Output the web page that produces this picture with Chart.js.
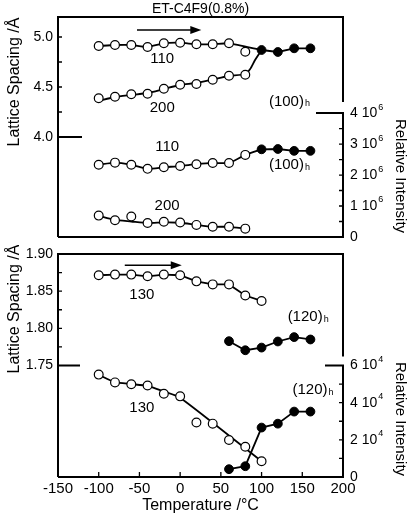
<!DOCTYPE html>
<html>
<head>
<meta charset="utf-8">
<title>ET-C4F9(0.8%)</title>
<script src="https://cdn.jsdelivr.net/npm/chart.js@4.4.1/dist/chart.umd.min.js"></script>
<style>
  body { margin: 0; background: #fff; }
  #wrap { position: relative; width: 411px; height: 517px; }
  canvas { position: absolute; left: 0; }
  #top { top: 0; }
  #bottom { top: 245px; }
</style>
</head>
<body>
<div id="wrap">
  <canvas id="top" width="411" height="245"></canvas>
  <canvas id="bottom" width="411" height="272"></canvas>
</div>
<script>
// temperatures (°C)
const tempsLow = [-100, -80, -60, -40, -20, 0, 20, 40, 60, 80];
const tempsHex = [100, 120, 140, 160];
const temps130 = [-100, -80, -60, -40, -20, 0, 20, 40, 60, 80, 100];
const temps120h = [60, 80, 100, 120, 140, 160];

// upper panel - lattice spacing (Å)
const spacing110 = [4.91, 4.92, 4.92, 4.90, 4.937, 4.943, 4.927, 4.927, 4.937, 4.853];
const spacing200 = [4.387, 4.403, 4.427, 4.433, 4.483, 4.523, 4.53, 4.573, 4.613, 4.623];
const spacing100h = [4.87, 4.85, 4.887, 4.887];
// upper panel - relative intensity (x 10^6)
const intens110 = [2.33, 2.40, 2.33, 2.20, 2.25, 2.29, 2.35, 2.39, 2.39, 2.65];
const intens200 = [0.69, 0.54, 0.66, 0.45, 0.49, 0.47, 0.39, 0.33, 0.33, 0.27];
const intens100h = [2.83, 2.84, 2.78, 2.78];

// lower panel - lattice spacing (Å)
const spacing130 = [1.8714, 1.8723, 1.8723, 1.870, 1.8723, 1.8714, 1.8632, 1.8591, 1.8591, 1.8441, 1.8368];
const spacing120h = [1.7827, 1.7705, 1.7741, 1.7823, 1.7882, 1.785];
// lower panel - relative intensity (x 10^4)
const intens130 = [5.51, 5.09, 4.99, 4.92, 4.48, 4.34, 2.93, 2.87, 1.99, 1.63, 0.85];
const intens120h = [0.42, 0.58, 2.66, 2.87, 3.52, 3.52];

// guide lines drawn through the points
const fit110T = [-100, -80, -60, -40, -20, 0, 20, 40, 60, 100];
const fit110V = [4.91, 4.92, 4.92, 4.90, 4.937, 4.943, 4.927, 4.927, 4.937, 4.87];
const fit200T = [-100, -80, -60, -40, -20, 0, 20, 40, 60, 80, 86, 92, 100];
const fit200V = [4.36, 4.40, 4.42, 4.44, 4.48, 4.52, 4.54, 4.575, 4.61, 4.63, 4.68, 4.77, 4.87];
const fitI110T = [-100, -80, -60, -40, -20, 0, 20, 40, 60, 80, 100];
const fitI110V = [2.33, 2.40, 2.33, 2.20, 2.25, 2.29, 2.35, 2.39, 2.39, 2.65, 2.83];
const fitI200T = [-100, -80, -60, -40, -20, 0, 20, 40, 60, 80];
const fitI200V = [0.68, 0.55, 0.50, 0.45, 0.47, 0.46, 0.39, 0.33, 0.33, 0.27];
const fitI130T = [-100, -80, -60, -40, -20, 0, 100];
const fitI130V = [5.5, 5.1, 5.0, 4.9, 4.6, 4.27, 0.85];

// tick labels
const tempTicks = [-150, -100, -50, 0, 50, 100, 150, 200];
const topSpacingTicks = [4.0, 4.5, 5.0];
const topSpacingMinor = [4.25, 4.75];
const topIntensTicks = [0, 1, 2, 3, 4];
const topIntensMinor = [0.5, 1.5, 2.5, 3.5];
const lowSpacingTicks = [1.75, 1.80, 1.85, 1.90];
const lowSpacingMinor = [1.775, 1.825, 1.875];
const lowIntensTicks = [0, 2, 4, 6];
const lowIntensMinor = [1, 3, 5];

const FONT = "'Liberation Sans', Arial, sans-serif";
const f = (s) => s + 'px ' + FONT;

const pts = (xs, ys) => xs.map((x, i) => ({ x: x, y: ys[i] }));

function openPts(xs, ys, axis, line) {
  return { data: pts(xs, ys), yAxisID: axis, showLine: !!line, borderColor: '#000', borderWidth: 1.8,
    pointRadius: 4.4, pointBackgroundColor: '#fff', pointBorderColor: '#000', pointBorderWidth: 1.2, order: 0 };
}
function filledPts(xs, ys, axis) {
  return { data: pts(xs, ys), yAxisID: axis, showLine: true, borderColor: '#000', borderWidth: 1.8,
    pointRadius: 4.4, pointBackgroundColor: '#000', pointBorderColor: '#000', pointBorderWidth: 1, order: 0 };
}
function guide(xs, ys, axis) {
  return { data: pts(xs, ys), yAxisID: axis, showLine: true, borderColor: '#000', borderWidth: 1.8,
    pointRadius: 0, tension: 0.2, order: 1 };
}

const panels = {
  top: {
    leftTicks: topSpacingTicks, leftMinor: topSpacingMinor, leftDigits: 1,
    rightTicks: topIntensTicks, rightMinor: topIntensMinor, rightExp: 6,
    stubL: 24, stubR: 27, gap: 11, xTicks: false,
    title: 'ET-C4F9(0.8%)',
    leftTitleY: 65, rightTitleY: 159,
    arrow: { t1: -53, t2: 26, v: 5.07, axis: 'yL' },
    notes: [
      { text: '110', t: -22, v: 4.78, axis: 'yL' },
      { text: '200', t: -22, v: 4.29, axis: 'yL' },
      { text: '(100)', sub: 'h', t: 109, v: 4.35, axis: 'yL' },
      { text: '110', t: -16, v: 2.90, axis: 'yR' },
      { text: '(100)', sub: 'h', t: 109, v: 2.32, axis: 'yR' },
      { text: '200', t: -16, v: 1.0, axis: 'yR' }
    ]
  },
  bottom: {
    leftTicks: lowSpacingTicks, leftMinor: lowSpacingMinor, leftDigits: 2,
    rightTicks: lowIntensTicks, rightMinor: lowIntensMinor, rightExp: 4,
    stubL: 22, stubR: 18, gap: 9, xTicks: true,
    leftTitleY: 55, rightTitleY: 165,
    arrow: { t1: -68, t2: 2, v: 1.885, axis: 'yL' },
    notes: [
      { text: '130', t: -47, v: 1.845, axis: 'yL' },
      { text: '(120)', sub: 'h', t: 132, v: 1.815, axis: 'yL' },
      { text: '(120)', sub: 'h', t: 138, v: 4.68, axis: 'yR' },
      { text: '130', t: -47, v: 3.71, axis: 'yR' }
    ]
  }
};

const panelPlugin = {
  id: 'panel',
  afterDraw(chart) {
    const p = panels[chart.canvas.id];
    const { ctx, chartArea: a } = chart;
    const sx = chart.scales.x, sl = chart.scales.yL, sr = chart.scales.yR;
    const lBreak = Math.min(...p.leftTicks), rBreak = Math.max(...p.rightTicks);
    const yBl = sl.getPixelForValue(lBreak), yBr = sr.getPixelForValue(rBreak);
    ctx.save();
    ctx.strokeStyle = '#000';
    ctx.fillStyle = '#000';
    ctx.lineWidth = 2;
    ctx.beginPath();
    ctx.moveTo(a.left, a.bottom);
    ctx.lineTo(a.left, a.top);
    ctx.lineTo(a.right, a.top);
    ctx.lineTo(a.right, yBr - p.gap);
    ctx.moveTo(a.left, yBl);
    ctx.lineTo(a.left + p.stubL, yBl);
    ctx.moveTo(a.right - p.stubR, yBr);
    ctx.lineTo(a.right, yBr);
    ctx.lineTo(a.right, a.bottom);
    ctx.lineTo(a.left, a.bottom);
    ctx.stroke();

    // inward ticks
    ctx.lineWidth = 1.3;
    ctx.beginPath();
    p.leftTicks.concat(p.leftMinor).forEach(v => {
      if (v === lBreak) return;
      const y = sl.getPixelForValue(v);
      ctx.moveTo(a.left, y); ctx.lineTo(a.left + 4, y);
    });
    p.rightTicks.concat(p.rightMinor).forEach(v => {
      if (v === rBreak) return;
      const y = sr.getPixelForValue(v);
      ctx.moveTo(a.right, y); ctx.lineTo(a.right - 4, y);
    });
    if (p.xTicks) {
      tempTicks.forEach(t => {
        const x = sx.getPixelForValue(t);
        ctx.moveTo(x, a.bottom); ctx.lineTo(x, a.bottom - 5);
      });
    }
    ctx.stroke();

    // tick labels
    ctx.font = f(14);
    ctx.textBaseline = 'middle';
    ctx.textAlign = 'right';
    p.leftTicks.forEach(v => ctx.fillText(v.toFixed(p.leftDigits), a.left - 5, sl.getPixelForValue(v)));
    ctx.textAlign = 'left';
    p.rightTicks.forEach(v => {
      const y = sr.getPixelForValue(v), x = a.right + 7;
      ctx.font = f(14);
      if (v === 0) { ctx.fillText('0', x, y); return; }
      const base = v + ' 10';
      ctx.fillText(base, x, y);
      const w = ctx.measureText(base).width;
      ctx.font = f(9);
      ctx.fillText(String(p.rightExp), x + w + 1, y - 6);
    });
    if (p.xTicks) {
      ctx.font = f(15);
      ctx.textAlign = 'center';
      ctx.textBaseline = 'top';
      tempTicks.forEach(t => ctx.fillText(String(t), sx.getPixelForValue(t), a.bottom + 4));
      ctx.font = f(16);
      ctx.fillText('Temperature /°C', (a.left + a.right) / 2, a.bottom + 21);
    }

    // axis titles
    ctx.font = f(16);
    ctx.textAlign = 'center';
    ctx.textBaseline = 'middle';
    ctx.save();
    ctx.translate(15, a.top + p.leftTitleY);
    ctx.rotate(-Math.PI / 2);
    ctx.fillText('Lattice Spacing /Å', 0, 0);
    ctx.restore();
    ctx.save();
    ctx.font = f(15);
    ctx.translate(400, a.top + p.rightTitleY);
    ctx.rotate(Math.PI / 2);
    ctx.fillText('Relative Intensity', 0, 0);
    ctx.restore();

    if (p.title) {
      ctx.font = f(14);
      ctx.fillText(p.title, (a.left + a.right) / 2, 9);
    }

    // series labels
    p.notes.forEach(n => {
      const sc = chart.scales[n.axis];
      const x = sx.getPixelForValue(n.t), y = sc.getPixelForValue(n.v);
      ctx.font = f(15);
      ctx.textBaseline = 'middle';
      if (n.sub) {
        ctx.textAlign = 'left';
        ctx.fillText(n.text, x, y);
        const w = ctx.measureText(n.text).width;
        ctx.font = f(9);
        ctx.fillText(n.sub, x + w + 1, y + 2);
      } else {
        ctx.textAlign = 'center';
        ctx.fillText(n.text, x, y);
      }
    });

    // heating arrow
    const ar = p.arrow;
    const ax1 = sx.getPixelForValue(ar.t1), ax2 = sx.getPixelForValue(ar.t2);
    const ay = chart.scales[ar.axis].getPixelForValue(ar.v);
    ctx.lineWidth = 1.5;
    ctx.beginPath();
    ctx.moveTo(ax1, ay); ctx.lineTo(ax2 - 8, ay);
    ctx.stroke();
    ctx.beginPath();
    ctx.moveTo(ax2, ay); ctx.lineTo(ax2 - 11, ay - 4); ctx.lineTo(ax2 - 11, ay + 4);
    ctx.closePath();
    ctx.fill();
    ctx.restore();
  }
};

function makeChart(id, datasets, yl, yr, padding) {
  return new Chart(document.getElementById(id), {
    type: 'scatter',
    data: { datasets: datasets },
    options: {
      responsive: false,
      animation: false,
      devicePixelRatio: 1,
      layout: { padding: padding },
      plugins: { legend: { display: false }, tooltip: { enabled: false }, title: { display: false } },
      scales: {
        x: { type: 'linear', min: -150, max: 200, display: false },
        yL: { type: 'linear', position: 'left', min: yl[0], max: yl[1], display: false },
        yR: { type: 'linear', position: 'right', min: yr[0], max: yr[1], display: false }
      }
    },
    plugins: [panelPlugin]
  });
}

makeChart('top', [
  guide(fit110T, fit110V, 'yL'),
  guide(fit200T, fit200V, 'yL'),
  guide(fitI110T, fitI110V, 'yR'),
  guide(fitI200T, fitI200V, 'yR'),
  openPts(tempsLow, spacing110, 'yL'),
  openPts(tempsLow, spacing200, 'yL'),
  filledPts(tempsHex, spacing100h, 'yL'),
  openPts(tempsLow, intens110, 'yR'),
  openPts(tempsLow, intens200, 'yR'),
  filledPts(tempsHex, intens100h, 'yR')
], [3.0, 5.2], [0, 7.1], { left: 58, right: 68, top: 17, bottom: 8 });

makeChart('bottom', [
  guide(fitI130T, fitI130V, 'yR'),
  openPts(temps130, spacing130, 'yL', true),
  filledPts(temps120h, spacing120h, 'yL'),
  openPts(temps130, intens130, 'yR'),
  filledPts(temps120h, intens120h, 'yR')
], [1.60, 1.90], [0, 12], { left: 58, right: 68, top: 9, bottom: 40 });
</script>
</body>
</html>
